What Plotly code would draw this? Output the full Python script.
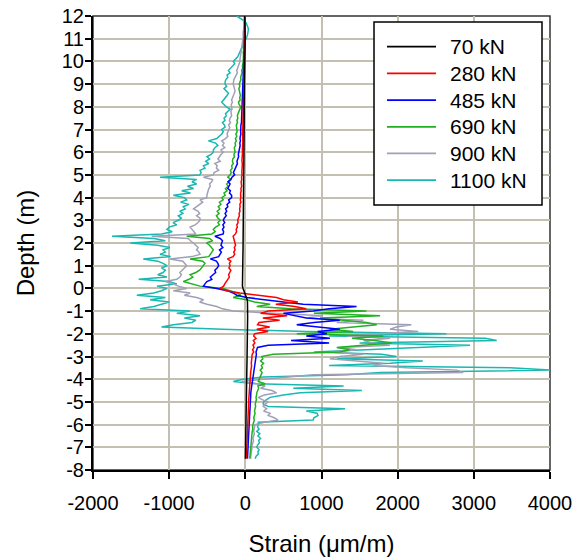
import plotly.graph_objects as go

# Depth (m), one row per metre
depth = [
    12.0, 11.9, 11.8, 11.7, 11.6, 11.5, 11.4, 11.3, 11.2, 11.1,
    11.0, 10.9, 10.8, 10.7, 10.6, 10.5, 10.4, 10.3, 10.2, 10.1,
    10.0, 9.9, 9.8, 9.7, 9.6, 9.5, 9.4, 9.3, 9.2, 9.1,
    9.0, 8.9, 8.8, 8.7, 8.6, 8.5, 8.4, 8.3, 8.2, 8.1,
    8.0, 7.9, 7.8, 7.7, 7.6, 7.5, 7.4, 7.3, 7.2, 7.1,
    7.0, 6.9, 6.8, 6.7, 6.6, 6.5, 6.4, 6.3, 6.2, 6.1,
    6.0, 5.9, 5.8, 5.7, 5.6, 5.5, 5.4, 5.3, 5.2, 5.1,
    5.0, 4.9, 4.8, 4.7, 4.6, 4.5, 4.4, 4.3, 4.2, 4.1,
    4.0, 3.9, 3.8, 3.7, 3.6, 3.5, 3.4, 3.3, 3.2, 3.1,
    3.0, 2.9, 2.8, 2.7, 2.6, 2.5, 2.4, 2.3, 2.2, 2.1,
    2.0, 1.9, 1.8, 1.7, 1.6, 1.5, 1.4, 1.3, 1.2, 1.1,
    1.0, 0.9, 0.8, 0.7, 0.6, 0.5, 0.4, 0.3, 0.2, 0.1,
    0.0, -0.1, -0.2, -0.3, -0.4, -0.5, -0.6, -0.7, -0.8, -0.9,
    -1.0, -1.1, -1.2, -1.3, -1.4, -1.5, -1.6, -1.7, -1.8, -1.9,
    -2.0, -2.1, -2.2, -2.3, -2.4, -2.5, -2.6, -2.7, -2.8, -2.9,
    -3.0, -3.1, -3.2, -3.3, -3.4, -3.5, -3.6, -3.7, -3.8, -3.9,
    -4.0, -4.1, -4.2, -4.3, -4.4, -4.5, -4.6, -4.7, -4.8, -4.9,
    -5.0, -5.1, -5.2, -5.3, -5.4, -5.5, -5.6, -5.7, -5.8, -5.9,
    -6.0, -6.1, -6.2, -6.3, -6.4, -6.5, -6.6, -6.7, -6.8, -6.9,
    -7.0, -7.1, -7.2, -7.3, -7.4, -7.5,
]

strain_70 = [
    -10, -8, -6, -5, -4, -3, -3, -2, -2, -2,
    -2, -3, -3, -4, -4, -5, -5, -6, -6, -7,
    -7, -8, -8, -9, -9, -10, -10, -10, -11, -11,
    -11, -12, -12, -12, -13, -13, -13, -14, -14, -14,
    -14, -15, -15, -15, -15, -16, -16, -16, -16, -16,
    -17, -17, -17, -17, -18, -18, -18, -18, -18, -19,
    -19, -19, -19, -20, -20, -20, -20, -21, -21, -21,
    -21, -21, -22, -22, -22, -22, -23, -23, -23, -23,
    -24, -24, -24, -24, -25, -25, -25, -25, -26, -26,
    -26, -26, -27, -27, -27, -28, -28, -28, -29, -29,
    -29, -30, -30, -30, -31, -31, -32, -32, -33, -33,
    -34, -35, -36, -37, -38, -39, -40, -40, -40, -38,
    -30, -20, -5, 10, 20, 25, 28, 30, 30, 31,
    31, 31, 30, 30, 30, 29, 29, 29, 28, 28,
    28, 27, 27, 26, 26, 25, 25, 24, 24, 23,
    23, 22, 22, 21, 21, 20, 20, 19, 19, 18,
    18, 17, 17, 16, 16, 15, 15, 14, 14, 13,
    13, 12, 12, 11, 11, 10, 10, 9, 9, 8,
    8, 8, 7, 7, 6, 6, 5, 5, 4, 4,
    4, 3, 3, 2, 2, 1,
]

strain_280 = [
    -3, -2, 0, -2, -4, -3, -5, -4, -6, -5,
    -8, -7, -9, -8, -10, -11, -9, -12, -13, -12,
    -14, -13, -15, -16, -14, -17, -18, -16, -19, -18,
    -20, -19, -22, -21, -23, -20, -24, -25, -22, -26,
    -25, -27, -26, -29, -28, -27, -30, -31, -29, -33,
    -31, -30, -34, -33, -36, -32, -35, -38, -36, -39,
    -37, -40, -38, -42, -45, -39, -43, -48, -44, -46,
    -42, -50, -47, -55, -52, -48, -58, -54, -62, -57,
    -60, -66, -58, -72, -68, -75, -70, -82, -78, -90,
    -100, -95, -112, -105, -120, -115, -130, -160, -150, -140,
    -140, -128, -145, -135, -152, -140, -162, -235, -190, -210,
    -200, -215, -190, -205, -220, -210, -235, -250, -270, -285,
    -330, -245, -70, 190, 410, 500, 690, 400, 650, 800,
    300, 200, 550, 230, 450, 180, 160, 320, 150, 300,
    120, 110, 140, 105, 125, 100, 115, 95, 110, 90,
    85, 90, 80, 78, 82, 75, 72, 70, 68, 65,
    62, 60, 58, 56, 55, 52, 50, 48, 47, 45,
    44, 43, 42, 41, 40, 39, 38, 37, 36, 35,
    34, 33, 32, 31, 30, 29, 28, 27, 26, 25,
    24, 22, 20, 18, 16, 14,
]

strain_485 = [
    -5, -3, -4, -6, -5, -8, -7, -9, -10, -8,
    -11, -12, -10, -14, -15, -13, -17, -18, -16, -20,
    -22, -24, -21, -27, -25, -30, -28, -33, -31, -35,
    -38, -34, -40, -36, -42, -39, -37, -44, -41, -46,
    -43, -48, -45, -50, -47, -53, -55, -51, -58, -56,
    -60, -62, -58, -66, -70, -64, -72, -68, -75, -80,
    -85, -92, -88, -100, -110, -104, -120, -130, -145, -157,
    -140, -175, -190, -227, -200, -215, -230, -196, -208, -180,
    -180, -220, -205, -240, -230, -260, -245, -266, -250, -275,
    -290, -270, -295, -280, -300, -285, -290, -400, -330, -300,
    -310, -320, -295, -340, -315, -330, -350, -460, -380, -360,
    -350, -370, -400, -390, -420, -460, -440, -505, -530, -550,
    -375, -240, -160, -113, 18, 235, 500, 760, 1460, 1100,
    890, 500, 650, 800, 1240, 900, 675, 1000, 1240, 950,
    1070, 800, 1110, 600, 1100, 300, 160, 150, 140, 145,
    140, 135, 130, 128, 125, 120, 115, 110, 105, 95,
    90, 85, 82, 80, 78, 75, 72, 70, 68, 66,
    65, 63, 62, 60, 58, 57, 55, 54, 52, 50,
    49, 48, 46, 45, 44, 42, 41, 40, 38, 37,
    36, 35, 33, 32, 30, 28,
]

strain_690 = [
    -8, -10, -6, -12, -9, -14, -11, -15, -13, -17,
    -15, -19, -22, -18, -25, -21, -28, -24, -30, -27,
    -26, -33, -38, -35, -48, -42, -55, -62, -58, -70,
    -80, -72, -85, -78, -70, -65, -74, -68, -90, -82,
    -60, -75, -88, -95, -105, -98, -110, -102, -118, -112,
    -115, -108, -125, -112, -130, -118, -135, -128, -145, -138,
    -135, -150, -142, -165, -170, -158, -180, -172, -195, -185,
    -200, -230, -190, -215, -245, -225, -260, -240, -280, -265,
    -310, -290, -340, -320, -355, -335, -370, -345, -380, -360,
    -330, -360, -340, -390, -420, -395, -440, -770, -470, -430,
    -510, -470, -450, -420, -440, -460, -480, -725, -560, -530,
    -550, -580, -600, -650, -725, -690, -740, -815, -700, -595,
    -290, -200, -113, -60, -160, 18, 120, 325, 150, 600,
    1590, 900, 1770, 980, 1330, 1590, 1725, 1460, 1110, 1415,
    675, 1810, 1400, 1700, 1920, 1545, 1200, 1370, 1240, 365,
    215, 230, 200, 240, 210, 225, 195, 220, 205, 190,
    180, 170, 260, 165, 175, 158, 150, 148, 140, 145,
    138, 130, 135, 125, 120, 128, 115, 110, 118, 105,
    100, 95, 98, 90, 88, 85, 80, 82, 76, 72,
    70, 68, 65, 62, 60, 58,
]

strain_900 = [
    -10, -15, -12, -20, -18, -25, -22, -28, -26, -30,
    -28, -35, -40, -45, -50, -55, -62, -58, -66, -70,
    -70, -80, -90, -100, -113, -105, -125, -135, -150, -157,
    -160, -150, -140, -135, -145, -155, -165, -180, -170, -185,
    -180, -175, -190, -185, -180, -200, -210, -195, -220, -205,
    -215, -222, -240, -230, -260, -310, -280, -300, -270, -320,
    -290, -320, -340, -360, -330, -400, -370, -380, -350, -410,
    -420, -550, -430, -440, -470, -460, -480, -490, -500, -505,
    -505, -595, -560, -600, -640, -680, -620, -600, -640, -595,
    -595, -620, -660, -725, -700, -680, -650, -1230, -750, -720,
    -680, -650, -620, -640, -610, -595, -700, -990, -820, -790,
    -770, -800, -830, -860, -840, -860, -900, -1050, -950, -880,
    -770, -945, -725, -800, -640, -550, -600, -505, -375, -300,
    -160, 540, 1020, 800, 1550, 1200, 2180, 1985, 1900, 2270,
    1700, 1330, 1900, 1550, 1680, 1900, 1240, 1460, 1110, 1550,
    1240, 1110, 1460, 1810, 1680, 2120, 2775, 2860, 890, 500,
    235, -47, 150, 260, 200, 350, 410, 250, 170, 220,
    300, 260, 235, 280, 240, 325, 300, 380, 430, 250,
    130, 120, 115, 110, 118, 105, 100, 108, 95, 90,
    88, 85, 80, 78, 72, 68,
]

strain_1100 = [
    -113, -60, -20, 10, 25, 35, 40, 38, 30, 22,
    10, 0, -15, -30, -48, -60, -70, -85, -100, -130,
    -157, -140, -170, -190, -222, -200, -240, -230, -255, -266,
    -266, -245, -280, -250, -222, -240, -260, -290, -310, -280,
    -250, -200, -230, -260, -250, -280, -266, -300, -275, -266,
    -310, -290, -310, -340, -375, -485, -390, -360, -400, -420,
    -420, -450, -505, -470, -520, -480, -550, -530, -595, -580,
    -600, -1120, -640, -700, -640, -760, -680, -835, -720, -945,
    -800, -770, -850, -740, -815, -790, -860, -820, -880, -840,
    -880, -950, -900, -1000, -1030, -960, -1100, -1750, -1200, -1050,
    -1510, -1150, -990, -1080, -1050, -1120, -980, -1340, -1150, -1080,
    -1030, -1100, -1050, -1080, -1150, -1030, -1400, -1000, -900, -1160,
    -1030, -1100, -1200, -1425, -1050, -1250, -1000, -1100, -1200, -1380,
    -725, -900, -595, -800, -650, -700, -945, -1100, -300, 800,
    2640, 1100, 3150, 3300, 1500, 2950, 2250, 1460, 900, 1790,
    1985, 1200, 2330, 1900, 1100, 3475, 4000, 1770, 1330, 235,
    -30, -157, 150, 1290, 630, 1530, 720, 500, 325, 280,
    240, 235, 300, 1310, 800, 940, 955, 900, 890, 170,
    170, 160, 180, 150, 190, 165, 200, 175, 185, 160,
    150, 180, 165, 170, 140, 130,
]

load_labels = ["70 kN", "280 kN", "485 kN", "690 kN", "900 kN", "1100 kN"]
series = [strain_70, strain_280, strain_485, strain_690, strain_900, strain_1100]
colors = ["#000000", "#ff0000", "#0000ff", "#22b022", "#a0a0b8", "#19b8b0"]

x_ticks = [-2000, -1000, 0, 1000, 2000, 3000, 4000]
y_ticks = list(range(-8, 13))

for s in series:
    assert len(s) == len(depth), (len(s), len(depth))

fig = go.Figure()
# draw heaviest load first so lighter loads sit on top
for lab, s, c in reversed(list(zip(load_labels, series, colors))):
    fig.add_trace(go.Scatter(x=s, y=depth, mode="lines", name=lab,
                             line=dict(color=c, width=1.5), showlegend=False))

FONT = "Arial, Liberation Sans, sans-serif"
# page has an 8px body margin, so the figure is 8px smaller than the window
fig.update_layout(
    width=580, height=549,
    margin=dict(l=85, r=38, t=8, b=87),
    paper_bgcolor="white", plot_bgcolor="white",
    font=dict(family=FONT, color="black", size=20),
    showlegend=False,
)
fig.update_xaxes(
    range=[-2000, 4000], tickvals=x_ticks, ticktext=[str(v) for v in x_ticks],
    showgrid=True, gridcolor="#c3c0b2", gridwidth=1.5, zeroline=False,
    showline=True, linecolor="black", linewidth=2,
    ticks="outside", ticklen=7, tickcolor="black", tickwidth=1.5,
    ticklabelstandoff=7, ticklabeloverflow="allow",
    tickfont=dict(size=20),
    title=dict(text="Strain (\u03bcm/m)", font=dict(size=24), standoff=23),
    automargin=False,
)
fig.update_yaxes(
    range=[-8, 12], tickvals=y_ticks, ticktext=[str(v) for v in y_ticks],
    showgrid=True, gridcolor="#c3c0b2", gridwidth=1.5, zeroline=False,
    showline=True, linecolor="black", linewidth=2,
    ticks="outside", ticklen=6, tickcolor="black", tickwidth=1.5,
    ticklabelstandoff=-3, ticklabeloverflow="allow",
    tickfont=dict(size=20),
    title=dict(text="Depth (m)", font=dict(size=24), standoff=20),
    automargin=False,
)
fig.add_shape(type="rect", xref="x domain", yref="y domain",
              x0=0, x1=1, y0=0, y1=1, line=dict(color="#333333", width=1.5),
              layer="below")

# Legend box drawn with shapes/annotations (plot-area paper coordinates)
fig.add_shape(type="rect", xref="paper", yref="paper",
              x0=0.6149, x1=0.9825, y0=0.5837, y1=0.9868,
              line=dict(color="black", width=1.5), fillcolor="white",
              layer="above")
row_top, row_step = 0.9324, 0.0588
for i, (lab, c) in enumerate(zip(load_labels, colors)):
    yy = row_top - i * row_step
    fig.add_shape(type="line", xref="paper", yref="paper",
                  x0=0.6433, x1=0.7505, y0=yy, y1=yy,
                  line=dict(color=c, width=1.8), layer="above")
    fig.add_annotation(xref="paper", yref="paper", x=0.7768, y=yy,
                       xanchor="left", yanchor="middle", text=lab,
                       showarrow=False, font=dict(size=21, family=FONT, color="black"))

fig.write_html("out.html")
